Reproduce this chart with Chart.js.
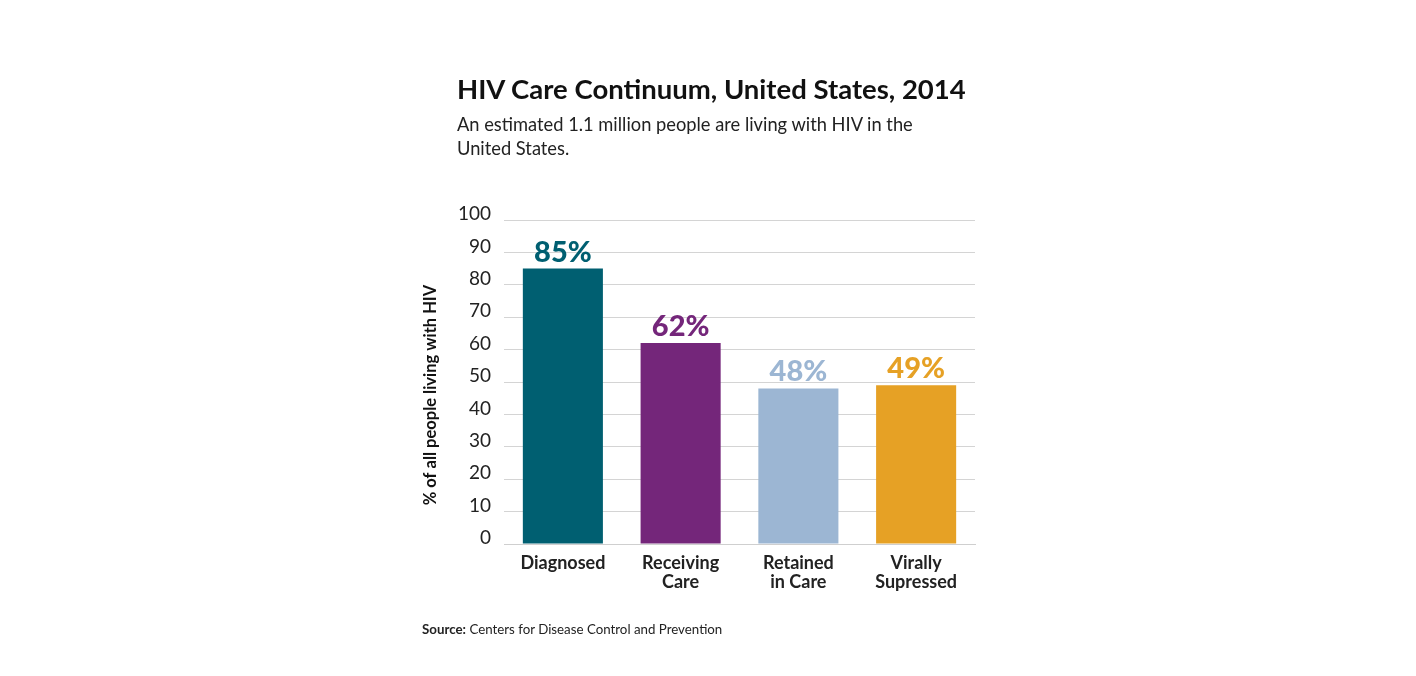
<!DOCTYPE html>
<html>
<head>
<meta charset="utf-8">
<script src="https://cdn.jsdelivr.net/npm/chart.js@4.4.0/dist/chart.umd.min.js"></script>
<style>
  body { margin: 0; background: #fff; font-family: Lato, "Open Sans", sans-serif; }
  #wrap { position: relative; width: 1416px; height: 676px; }
  #chart { position: absolute; left: 0; top: 0; }
  .title { position: absolute; left: 457px; top: 73px; font-size: 27.5px; line-height: 32px; font-weight: 700; color: #111; }
  .subtitle { position: absolute; left: 457px; top: 112px; font-size: 18.3px; line-height: 24px; color: #222; width: 480px; }
  .source { position: absolute; left: 422px; top: 621px; font-size: 13.3px; line-height: 16px; color: #222; }
</style>
</head>
<body>
<div id="wrap">
  <canvas id="chart" width="1416" height="676"></canvas>
  <div class="title">HIV Care Continuum, United States, 2014</div>
  <div class="subtitle">An estimated 1.1 million people are living with HIV in the United States.</div>
  <div class="source"><b>Source:</b> Centers for Disease Control and Prevention</div>
</div>
<script>
const categories = [['Diagnosed'], ['Receiving', 'Care'], ['Retained', 'in Care'], ['Virally', 'Supressed']];
const percentValues = [85, 62, 48, 49];
const barColors = ['#005f71', '#74267a', '#9cb6d3', '#e6a125'];
const yTicks = [0, 10, 20, 30, 40, 50, 60, 70, 80, 90, 100];
const yTitle = '% of all people living with HIV';

// draws "85%" etc above each bar, plus the rotated y axis title
const valueLabels = {
    id: 'valueLabels',
    afterDatasetsDraw(chart) {
        const ctx = chart.ctx;
        const meta = chart.getDatasetMeta(0);
        ctx.save();
        ctx.font = '900 29px Lato, "Open Sans", sans-serif';
        ctx.textAlign = 'center';
        ctx.textBaseline = 'alphabetic';
        meta.data.forEach((bar, i) => {
            ctx.fillStyle = barColors[i];
            ctx.fillText(percentValues[i] + '%', bar.x, bar.y - 7);
        });
        ctx.restore();

        ctx.save();
        ctx.translate(431, 395);
        ctx.rotate(-Math.PI / 2);
        ctx.font = 'bold 16.5px Lato, "Open Sans", sans-serif';
        ctx.fillStyle = '#111';
        ctx.textAlign = 'center';
        ctx.textBaseline = 'middle';
        ctx.fillText(yTitle, 0, 0);
        ctx.restore();
    }
};

function initChart() {
    const ctx = document.getElementById('chart').getContext('2d');
    new Chart(ctx, {
        type: 'bar',
        data: {
            labels: categories,
            datasets: [{
                data: percentValues,
                backgroundColor: barColors,
                borderWidth: 0,
                barPercentage: 0.68,
                categoryPercentage: 1
            }]
        },
        options: {
            responsive: false,
            animation: false,
            layout: { padding: { left: 416, right: 441, top: 220, bottom: 62 } },
            plugins: { legend: { display: false }, tooltip: { enabled: false } },
            scales: {
                x: {
                    grid: { display: false },
                    border: { color: '#cfcfcf', width: 1 },
                    ticks: {
                        color: '#222',
                        padding: 2,
                        font: { family: 'Lato, "Open Sans", sans-serif', size: 18, weight: 'bold', lineHeight: 1.05 }
                    },
                    afterFit(scale) { scale.height = 70; }
                },
                y: {
                    min: 0,
                    max: 100,
                    afterBuildTicks(scale) { scale.ticks = yTicks.map(v => ({ value: v })); },
                    grid: { color: '#d4d4d4', drawTicks: false },
                    border: { display: false },
                    ticks: {
                        color: '#222',
                        padding: 13,
                        labelOffset: -6,
                        font: { family: 'Lato, "Open Sans", sans-serif', size: 19 }
                    },
                    afterFit(scale) { scale.width = 88; }
                }
            }
        },
        plugins: [valueLabels]
    });
}

document.addEventListener('DOMContentLoaded', initChart);
</script>
</body>
</html>
